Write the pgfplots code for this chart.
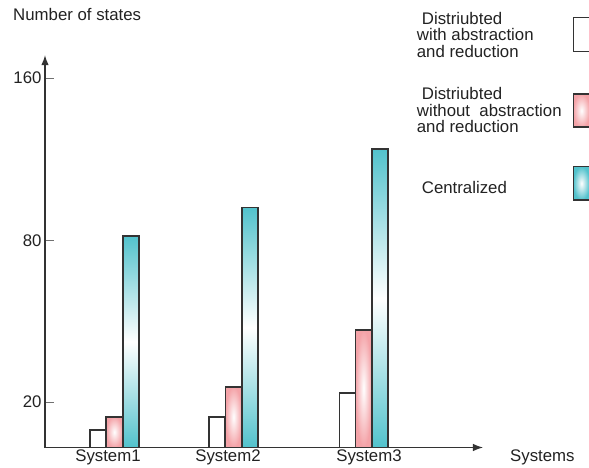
\documentclass[border=0pt]{standalone}
\usepackage{pgfplots}
\pgfplotsset{compat=1.18}
\usepackage{fontspec}
\setmainfont{Liberation Sans}
\usetikzlibrary{arrows.meta}
\definecolor{cy}{HTML}{52C2CC}
\definecolor{pk}{HTML}{F4A3A8}
\definecolor{ax}{HTML}{333333}
\definecolor{tx}{HTML}{222222}
\begin{document}
\begin{tikzpicture}[font=\fontsize{16.8bp}{19bp}\selectfont]
\path[use as bounding box] (-45bp,-20.5bp) rectangle (544bp,447.5bp);
\begin{axis}[
  scale only axis,
  x=1bp, y=2.585bp,
  xmin=45, xmax=483, ymin=0, ymax=151.8,
  axis lines=left,
  axis line style={line width=1.3bp, draw=ax, -{Latex[length=10bp,width=7.5bp]}},
  ytick={17.6,80,142.9}, yticklabels={20,80,160},
  xtick={108,228,369}, xticklabels={System1,System2,System3},
  tick align=inside, major tick length=9bp,
  y tick style={draw=ax!70, line width=1bp},
  x tick style={draw=none},
  /pgf/number format/assume math mode=true,
  tick label style={font=\fontsize{16.8bp}{19bp}\selectfont, text=tx},
  xticklabel style={inner sep=0pt, yshift=-2bp},
  clip=false,
  wb/.style={ybar, bar width=16.3, bar shift=0pt, draw=ax, line width=1.6bp, fill=white},
  pb/.style={ybar, bar width=16.3, bar shift=0pt, draw=ax, line width=1.6bp, shading=radial, inner color=white, outer color=pk},
  cb/.style={ybar, bar width=16.3, bar shift=0pt, draw=ax, line width=1.6bp, top color=cy, bottom color=cy, middle color=white},
]
% Distributed with abstraction and reduction
\addplot[wb] coordinates {(97.9,6.8)};
\addplot[wb] coordinates {(217,11.9)};
\addplot[wb] coordinates {(347.5,21.0)};
% Distributed without abstraction and reduction
\addplot[pb] coordinates {(114.3,11.9)};
\addplot[pb] coordinates {(233.5,23.5)};
\addplot[pb] coordinates {(363.5,45.4)};
% Centralized
\addplot[cb] coordinates {(130.9,81.9)};
\addplot[cb] coordinates {(250,92.8)};
\addplot[cb] coordinates {(380,115.5)};
\end{axis}
\begin{scope}[every node/.style={anchor=base west, inner sep=0pt, text=tx}]
\node at (-32bp,426.8bp) {Number of states};
\node at (465bp,-13.5bp) {Systems};
\node at (376.7bp,422.5bp) {Distriubted};
\node at (371.7bp,406.8bp) {with abstraction};
\node at (371.7bp,389.5bp) {and reduction};
\node at (376.7bp,347.5bp) {Distriubted};
\node at (371.7bp,330.5bp) {without\ \ abstraction};
\node at (371.7bp,314.5bp) {and reduction};
\node at (376.7bp,253.5bp) {Centralized};
\end{scope}
\draw[ax, line width=1.6bp, fill=white] (528.3bp,429.8bp) rectangle (544.6bp,395.8bp);
\draw[ax, line width=1.6bp, shading=radial, inner color=white, outer color=pk] (528.3bp,353.5bp) rectangle (544.6bp,320.2bp);
\draw[ax, line width=1.6bp, shading=radial, inner color=white, outer color=cy] (528.3bp,280.8bp) rectangle (544.6bp,247.5bp);
\end{tikzpicture}
\end{document}
